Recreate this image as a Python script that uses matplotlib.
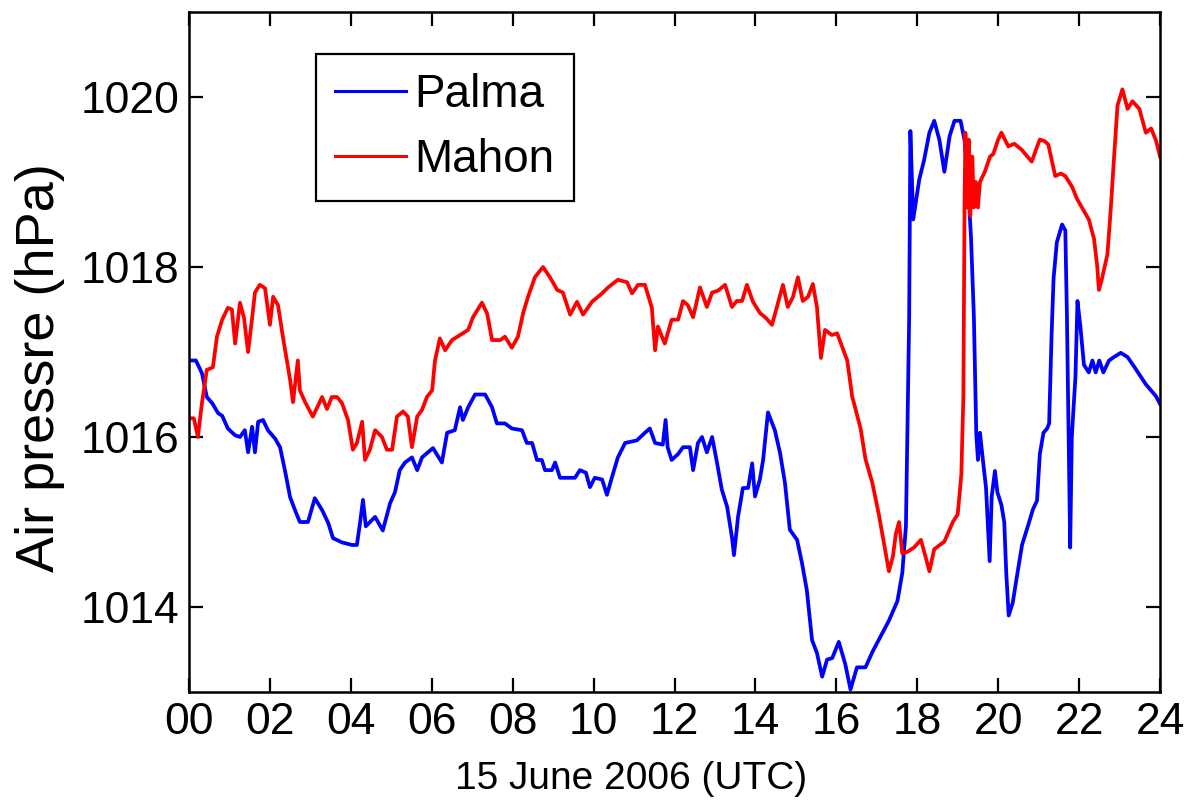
import matplotlib
matplotlib.use("Agg")
import matplotlib.pyplot as plt

# ---------------- data (hours UTC, hPa) ----------------
palma_hours = [0.02, 0.17, 0.32, 0.44, 0.57, 0.72, 0.82, 0.96, 1.14, 1.26, 1.38, 1.46, 1.56, 1.63, 1.71, 1.83, 1.95,
               2.13, 2.25, 2.37, 2.50, 2.62, 2.74, 2.94, 3.11, 3.29, 3.44, 3.56, 3.78, 4.03, 4.15, 4.23, 4.30, 4.37,
               4.60, 4.79, 4.97, 5.09, 5.21, 5.34, 5.51, 5.64, 5.76, 6.03, 6.25, 6.38, 6.57, 6.70, 6.77, 6.90, 7.07,
               7.32, 7.49, 7.61, 7.81, 7.98, 8.23, 8.35, 8.48, 8.60, 8.72, 8.80, 8.97, 9.05, 9.17, 9.54, 9.66, 9.81,
               9.91, 10.03, 10.21, 10.33, 10.45, 10.60, 10.78, 11.07, 11.27, 11.39, 11.52, 11.71, 11.78, 11.83, 11.93,
               12.09, 12.21, 12.38, 12.46, 12.58, 12.68, 12.80, 12.93, 13.05, 13.17, 13.30, 13.42, 13.47, 13.57, 13.69,
               13.82, 13.92, 13.99, 14.11, 14.19, 14.31, 14.48, 14.61, 14.73, 14.85, 15.03, 15.15, 15.27, 15.40, 15.52,
               15.65, 15.77, 15.90, 16.06, 16.22, 16.35, 16.51, 16.72, 16.89, 17.10, 17.30, 17.51, 17.63, 17.72, 17.80,
               17.83, 17.90, 18.05, 18.17, 18.30, 18.42, 18.55, 18.67, 18.80, 18.92, 19.07, 19.17, 19.25, 19.33, 19.40,
               19.46, 19.50, 19.55, 19.62, 19.70, 19.79, 19.84, 19.92, 19.98, 20.08, 20.15, 20.20, 20.26, 20.36, 20.46,
               20.59, 20.74, 20.86, 20.96, 21.03, 21.12, 21.21, 21.26, 21.32, 21.37, 21.45, 21.58, 21.66, 21.70, 21.74,
               21.78, 21.82, 21.91, 21.96, 22.03, 22.12, 22.24, 22.33, 22.41, 22.50, 22.60, 22.74, 22.86, 23.03, 23.20,
               23.40, 23.65, 23.90, 24.00]
palma_hpa = [1016.90, 1016.90, 1016.75, 1016.47, 1016.40, 1016.28, 1016.25, 1016.10, 1016.02, 1016.00, 1016.08,
             1015.82, 1016.12, 1015.82, 1016.18, 1016.20, 1016.08, 1015.98, 1015.88, 1015.61, 1015.29, 1015.14,
             1015.00, 1015.00, 1015.28, 1015.14, 1014.99, 1014.81, 1014.76, 1014.73, 1014.73, 1015.00, 1015.26,
             1014.95, 1015.06, 1014.90, 1015.22, 1015.35, 1015.61, 1015.70, 1015.76, 1015.61, 1015.76, 1015.87,
             1015.70, 1016.05, 1016.08, 1016.35, 1016.20, 1016.35, 1016.50, 1016.50, 1016.35, 1016.16, 1016.16,
             1016.10, 1016.08, 1015.93, 1015.93, 1015.73, 1015.73, 1015.61, 1015.61, 1015.70, 1015.52, 1015.52,
             1015.61, 1015.58, 1015.41, 1015.52, 1015.50, 1015.32, 1015.52, 1015.76, 1015.93, 1015.96, 1016.05,
             1016.10, 1015.93, 1015.91, 1016.20, 1015.88, 1015.73, 1015.80, 1015.88, 1015.88, 1015.61, 1015.93,
             1016.00, 1015.82, 1016.00, 1015.70, 1015.38, 1015.18, 1014.82, 1014.61, 1015.06, 1015.40, 1015.40,
             1015.69, 1015.30, 1015.50, 1015.73, 1016.29, 1016.08, 1015.81, 1015.46, 1014.91, 1014.79, 1014.52,
             1014.20, 1013.61, 1013.46, 1013.18, 1013.38, 1013.40, 1013.59, 1013.33, 1013.03, 1013.29, 1013.29,
             1013.47, 1013.66, 1013.84, 1014.07, 1014.40, 1014.95, 1017.40, 1019.60, 1018.56, 1019.03, 1019.26,
             1019.58, 1019.72, 1019.49, 1019.12, 1019.54, 1019.72, 1019.72, 1019.49, 1019.03, 1018.33, 1017.41,
             1016.02, 1015.73, 1016.05, 1015.74, 1015.40, 1014.54, 1015.30, 1015.60, 1015.35, 1015.20, 1015.00,
             1014.40, 1013.90, 1014.05, 1014.35, 1014.73, 1014.96, 1015.15, 1015.25, 1015.80, 1016.05, 1016.10,
             1016.16, 1017.20, 1017.87, 1018.29, 1018.50, 1018.43, 1017.41, 1016.02, 1014.70, 1016.00, 1016.71,
             1017.60, 1017.31, 1016.85, 1016.76, 1016.90, 1016.76, 1016.90, 1016.76, 1016.90, 1016.94, 1016.99,
             1016.94, 1016.80, 1016.62, 1016.48, 1016.39]

mahon_hours = [0.00, 0.12, 0.22, 0.32, 0.44, 0.59, 0.69, 0.82, 0.96, 1.06, 1.14, 1.26, 1.36, 1.46, 1.56, 1.63, 1.75,
               1.88, 2.00, 2.08, 2.20, 2.32, 2.42, 2.50, 2.57, 2.69, 2.74, 2.87, 3.06, 3.29, 3.41, 3.53, 3.66, 3.78,
               3.93, 4.05, 4.15, 4.28, 4.35, 4.47, 4.60, 4.77, 4.89, 5.02, 5.14, 5.29, 5.41, 5.51, 5.64, 5.76, 5.88,
               6.01, 6.08, 6.20, 6.33, 6.50, 6.70, 6.90, 7.02, 7.24, 7.37, 7.49, 7.69, 7.81, 7.98, 8.13, 8.26, 8.38,
               8.55, 8.75, 8.92, 9.10, 9.24, 9.42, 9.59, 9.74, 9.96, 10.21, 10.36, 10.60, 10.83, 10.95, 11.10, 11.27,
               11.44, 11.52, 11.59, 11.69, 11.76, 11.93, 12.09, 12.21, 12.33, 12.46, 12.63, 12.80, 12.93, 13.07,
               13.25, 13.42, 13.54, 13.67, 13.79, 13.94, 14.11, 14.26, 14.41, 14.53, 14.68, 14.80, 14.93, 15.05,
               15.17, 15.30, 15.42, 15.52, 15.62, 15.72, 15.89, 16.02, 16.27, 16.39, 16.60, 16.72, 16.89, 17.05,
               17.22, 17.30, 17.40, 17.47, 17.55, 17.63, 17.76, 17.92, 18.09, 18.20, 18.30, 18.42, 18.67, 18.88,
               19.00, 19.09, 19.14, 19.17, 19.19, 19.23, 19.27, 19.31, 19.36, 19.40, 19.45, 19.50, 19.55, 19.67,
               19.80, 19.88, 20.00, 20.08, 20.25, 20.40, 20.58, 20.72, 20.83, 20.95, 21.03, 21.15, 21.24, 21.35,
               21.41, 21.55, 21.66, 21.83, 21.95, 22.07, 22.24, 22.37, 22.45, 22.49, 22.57, 22.70, 22.78, 22.86,
               22.95, 23.07, 23.20, 23.32, 23.49, 23.65, 23.78, 23.90, 24.00]
mahon_hpa = [1016.22, 1016.22, 1016.00, 1016.40, 1016.79, 1016.82, 1017.18, 1017.38, 1017.52, 1017.50, 1017.10,
             1017.58, 1017.40, 1017.00, 1017.40, 1017.70, 1017.79, 1017.75, 1017.32, 1017.65, 1017.55, 1017.18,
             1016.90, 1016.67, 1016.41, 1016.90, 1016.55, 1016.41, 1016.24, 1016.47, 1016.33, 1016.47, 1016.47,
             1016.40, 1016.20, 1015.85, 1015.93, 1016.18, 1015.73, 1015.85, 1016.08, 1016.00, 1015.85, 1015.85,
             1016.24, 1016.30, 1016.24, 1015.88, 1016.24, 1016.32, 1016.47, 1016.55, 1016.90, 1017.16, 1017.02,
             1017.14, 1017.20, 1017.26, 1017.41, 1017.58, 1017.45, 1017.14, 1017.14, 1017.18, 1017.05, 1017.18,
             1017.46, 1017.65, 1017.88, 1018.00, 1017.88, 1017.73, 1017.70, 1017.44, 1017.59, 1017.44, 1017.59,
             1017.69, 1017.76, 1017.85, 1017.82, 1017.69, 1017.79, 1017.79, 1017.52, 1017.02, 1017.30, 1017.18,
             1017.10, 1017.38, 1017.38, 1017.60, 1017.55, 1017.41, 1017.76, 1017.53, 1017.70, 1017.72, 1017.79,
             1017.53, 1017.60, 1017.60, 1017.79, 1017.59, 1017.46, 1017.40, 1017.32, 1017.53, 1017.79, 1017.53,
             1017.65, 1017.88, 1017.60, 1017.65, 1017.80, 1017.53, 1016.93, 1017.26, 1017.20, 1017.22, 1016.90,
             1016.48, 1016.10, 1015.74, 1015.46, 1015.09, 1014.63, 1014.42, 1014.60, 1014.86, 1015.00, 1014.63,
             1014.65, 1014.70, 1014.79, 1014.60, 1014.42, 1014.68, 1014.77, 1015.00, 1015.09, 1015.56, 1016.48,
             1018.80, 1019.58, 1018.70, 1019.50, 1018.60, 1019.30, 1018.70, 1019.00, 1018.70, 1019.00, 1019.12,
             1019.30, 1019.33, 1019.50, 1019.58, 1019.42, 1019.45, 1019.38, 1019.30, 1019.24, 1019.40, 1019.50,
             1019.48, 1019.44, 1019.20, 1019.07, 1019.10, 1019.07, 1018.94, 1018.80, 1018.70, 1018.56, 1018.33,
             1018.00, 1017.73, 1017.87, 1018.15, 1018.66, 1019.26, 1019.90, 1020.09, 1019.86, 1019.95, 1019.86,
             1019.58, 1019.63, 1019.49, 1019.30]

series_labels = ["Palma", "Mahon"]
x_ticks = list(range(0, 25, 2))
x_tick_labels = ["%02d" % t for t in x_ticks]
y_ticks = [1014, 1016, 1018, 1020]

# ---------------- figure ----------------
plt.rcParams["font.family"] = ["Liberation Sans", "DejaVu Sans"]

fig = plt.figure(figsize=(11.91, 8.02), dpi=100)
ax = fig.add_axes([189 / 1191, 1 - 692 / 802, (1160 - 189) / 1191, (692 - 12) / 802])

ax.plot(palma_hours, palma_hpa, color="#0000ff", lw=2.7, label=series_labels[0])
ax.plot(mahon_hours, mahon_hpa, color="#ff0000", lw=2.7, label=series_labels[1])

ax.set_xlim(0, 24)
ax.set_ylim(1013, 1021)
ax.set_xticks(x_ticks)
ax.set_xticklabels(x_tick_labels)
ax.set_yticks(y_ticks)
ax.tick_params(direction="in", length=10, width=1.6, top=True, right=True,
               labelsize=32, pad=7)
for s in ax.spines.values():
    s.set_linewidth(1.8)

ax.set_xlabel("15 June 2006 (UTC)", fontsize=28)
ax.xaxis.set_label_coords(0.455, -0.102)
ax.set_ylabel("Air pressre (hPa)", fontsize=39)
ax.yaxis.set_label_coords(-0.128, 0.477)

leg = ax.legend(loc="upper left", bbox_to_anchor=(0.131, 0.938), borderaxespad=0,
                fontsize=33, fancybox=False, framealpha=1, edgecolor="black",
                handlelength=1.55, handletextpad=0.18, labelspacing=0.45,
                borderpad=0.42)
leg.get_frame().set_linewidth(1.6)
for ln in leg.get_lines():
    ln.set_linewidth(2.2)

fig.savefig("out.png", dpi=100, facecolor="white")
